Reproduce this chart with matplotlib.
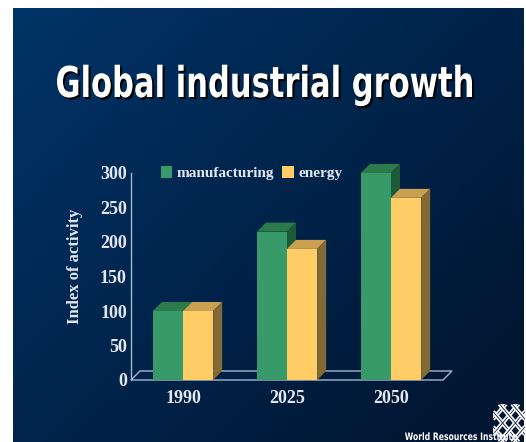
import numpy as np
import matplotlib.pyplot as plt
from matplotlib.patches import Polygon, Rectangle, PathPatch
from matplotlib.textpath import TextPath
from matplotlib.font_manager import FontProperties
from matplotlib.transforms import Affine2D

years = ["1990", "2025", "2050"]
manufacturing = [100, 215, 300]
energy = [100, 190, 264]

W, H = 526, 442
fig = plt.figure(figsize=(W / 100, H / 100), dpi=100)
fig.patch.set_facecolor("white")


def fx(px):
    return px / W


def fy(py):
    return 1 - py / H


def narrow_text(s, left, right, baseline, cap, color, shadow=None):
    # bold sans squeezed horizontally to fit between left and right (pixels)
    size = cap / 0.729
    tp = TextPath((0, 0), s, size=size, prop=FontProperties(family="DejaVu Sans", weight="bold"))
    ext = tp.get_extents()
    sx = (right - left) / ext.width
    layers = []
    if shadow:
        layers.append((shadow, "black"))
    layers.append(((0, 0), color))
    for (ox, oy), c in layers:
        tr = Affine2D().translate(-ext.x0, 0).scale(sx, 1).translate(left + ox, H - baseline - oy)
        fig.add_artist(PathPatch(tr.transform_path(tp), facecolor=c, edgecolor="none",
                                 transform=None, zorder=10))


# slide background with a diagonal gradient
bg = fig.add_axes([fx(13), 0, fx(524) - fx(13), fy(8)])
bg.set_axis_off()
gx, gy = np.meshgrid(np.linspace(0, 1, 200), np.linspace(0, 1, 200))
t = np.clip(0.6 * gx + 0.5 * gy, 0, 1)
c0 = np.array([0, 52, 104]) / 255
c1 = np.array([0, 22, 50]) / 255
img = c0 + (c1 - c0) * t[..., None]
bg.imshow(img, aspect="auto", extent=[0, 1, 0, 1], origin="upper")
bg.set_xlim(0, 1)
bg.set_ylim(0, 1)

narrow_text("Global industrial growth", 57, 472, 97, 31, "white", shadow=(2, 2))

# chart area
ax = fig.add_axes([fx(131), fy(380), fx(443) - fx(131), fy(173) - fy(380)])
ax.patch.set_alpha(0)
ax.set_xlim(-0.5, 2.5)
ax.set_ylim(0, 300)

serif = ["Liberation Serif", "DejaVu Serif"]
txt = "#e4e6ee"
line_c = "#a9b4cc"

bw = 0.29
dx = 9 / 104
dy = 9 / 0.69

# floor
floor = Polygon([(-0.5, 0), (2.5, 0), (2.5 + dx, dy), (-0.5 + dx, dy)],
                closed=True, fill=False, edgecolor=line_c, lw=1, clip_on=False, zorder=1)
ax.add_patch(floor)

green = ("#389a68", "#2a7a4c", "#1d5a38")
yellow = ("#ffcc66", "#c9a050", "#826a34")


def bar3d(x0, h, cols, z):
    front, top, side = cols
    ax.add_patch(Rectangle((x0, 0), bw, h, facecolor=front, edgecolor="none", zorder=z))
    ax.add_patch(Polygon([(x0, h), (x0 + bw, h), (x0 + bw + dx, h + dy), (x0 + dx, h + dy)],
                         facecolor=top, edgecolor="none", zorder=z, clip_on=False))
    ax.add_patch(Polygon([(x0 + bw, 0), (x0 + bw + dx, dy), (x0 + bw + dx, h + dy), (x0 + bw, h)],
                         facecolor=side, edgecolor="none", zorder=z, clip_on=False))


for i in range(len(years)):
    bar3d(i - bw, manufacturing[i], green, 2 + 2 * i)
    bar3d(i, energy[i], yellow, 3 + 2 * i)

for s in ["top", "right", "bottom"]:
    ax.spines[s].set_visible(False)
ax.spines["left"].set_color(line_c)
ax.spines["left"].set_linewidth(1)

ax.set_yticks([0, 50, 100, 150, 200, 250, 300])
ax.set_xticks(range(len(years)))
ax.set_xticklabels(years)
ax.tick_params(axis="y", length=0, pad=3, colors=txt, labelsize=13)
ax.tick_params(axis="x", length=0, pad=7, colors=txt, labelsize=13)
for lab in ax.get_xticklabels() + ax.get_yticklabels():
    lab.set_family(serif)
    lab.set_fontweight("bold")

ax.set_ylabel("Index of activity", color=txt, family=serif, fontweight="bold", fontsize=12)
ax.yaxis.set_label_coords(-0.155, 0.55)

handles = [Rectangle((0, 0), 1, 1, facecolor=green[0]), Rectangle((0, 0), 1, 1, facecolor=yellow[0])]
leg = ax.legend(handles, ["manufacturing", "energy"], ncol=2, frameon=False,
                loc="center left", bbox_to_anchor=(30 / 312, 1.0),
                handlelength=0.75, handleheight=0.8, handletextpad=0.3, columnspacing=0.5,
                borderaxespad=0, borderpad=0,
                prop={"family": serif, "weight": "bold", "size": 11})
leg.set_zorder(20)
for tx in leg.get_texts():
    tx.set_color(txt)

# footer
narrow_text("World Resources Institute", 405, 517, 440, 7.5, "white")

# woven lattice mark
logo = fig.add_axes([fx(493), fy(442), fx(32), fy(404) - fy(442)])
logo.set_axis_off()
logo.set_xlim(-1, 1)
logo.set_ylim(-1, 1)
for k in np.linspace(-0.6, 0.6, 4):
    ends = np.array([-1 + abs(k), 1 - abs(k)])
    logo.plot(ends + k, ends - k, color="white", lw=3, solid_capstyle="butt")
    logo.plot(ends + k, -ends + k, color="white", lw=3, solid_capstyle="butt")
    logo.plot(ends + k, ends - k, color="#0a1a35", lw=0.6, solid_capstyle="butt")
    logo.plot(ends + k, -ends + k, color="#0a1a35", lw=0.6, solid_capstyle="butt")

fig.savefig("out.png", dpi=100, facecolor=fig.get_facecolor())
